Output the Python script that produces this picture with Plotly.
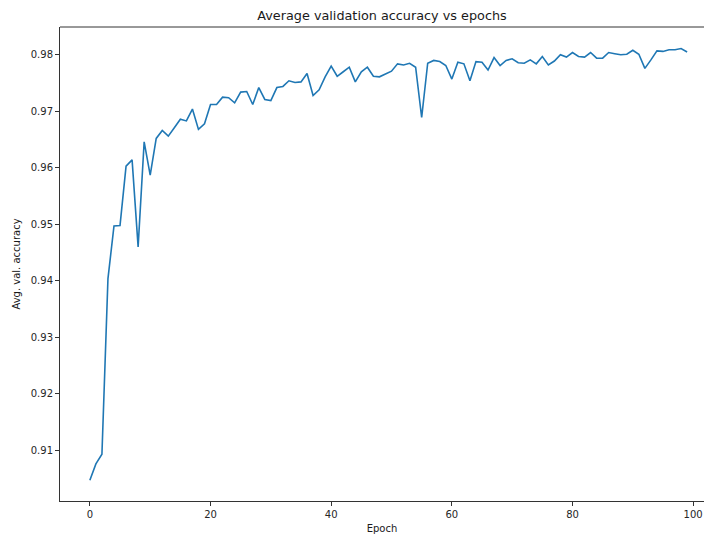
import plotly.graph_objects as go

epochs = list(range(100))
accuracy = [
    0.9047, 0.9076, 0.9093, 0.9404, 0.9497, 0.9498, 0.9603, 0.9614, 0.9460, 0.9646,
    0.9587, 0.9652, 0.9666, 0.9656, 0.9671, 0.9686, 0.9683, 0.9704, 0.9668, 0.9678,
    0.9712, 0.9712, 0.9725, 0.9724, 0.9715, 0.9734, 0.9735, 0.9712, 0.9742, 0.9721,
    0.9719, 0.9742, 0.9744, 0.9754, 0.9751, 0.9752, 0.9767, 0.9728, 0.9738, 0.9761,
    0.9780, 0.9762, 0.9770, 0.9778, 0.9752, 0.9770, 0.9778, 0.9762, 0.9761, 0.9766,
    0.9771, 0.9784, 0.9782, 0.9785, 0.9778, 0.9689, 0.9785, 0.9790, 0.9788, 0.9781,
    0.9757, 0.9787, 0.9784, 0.9754, 0.9788, 0.9787, 0.9773, 0.9795, 0.9781, 0.9790,
    0.9793, 0.9786, 0.9785, 0.9791, 0.9784, 0.9797, 0.9782, 0.9789, 0.9800, 0.9796,
    0.9804, 0.9797, 0.9796, 0.9804, 0.9794, 0.9794, 0.9804, 0.9802, 0.9800, 0.9801,
    0.9808, 0.9801, 0.9776, 0.9791, 0.9807, 0.9806, 0.9809, 0.9809, 0.9811, 0.9805,
]
x_ticks = [0, 20, 40, 60, 80, 100]
y_ticks = [0.91, 0.92, 0.93, 0.94, 0.95, 0.96, 0.97, 0.98]

fig = go.Figure()
fig.add_trace(go.Scatter(x=epochs, y=accuracy, mode="lines",
                         line=dict(color="#1f77b4", width=1.6), showlegend=False))

font = "DejaVu Sans"
fig.update_layout(
    width=704, height=534,
    margin=dict(l=60, r=0, t=27, b=33),
    paper_bgcolor="white", plot_bgcolor="white",
    title=dict(text="Average validation accuracy vs epochs", x=0.5, xanchor="center",
               xref="paper", y=1 - 16 / 534, yanchor="middle",
               font=dict(family=font, size=12.8, color="#1a1a1a")),
    font=dict(family=font, size=10, color="#262626"),
)
# top spine (no right spine, as in the reference crop)
fig.add_shape(type="line", xref="paper", yref="paper", x0=0, x1=1, y0=1, y1=1,
              line=dict(color="#333333", width=1))
fig.update_xaxes(
    range=[-4.95, 101.8], tickvals=x_ticks, ticktext=[str(v) for v in x_ticks],
    showgrid=False, zeroline=False, showline=True, linecolor="#333333", linewidth=1,
    mirror=False, ticks="outside", ticklen=4, tickcolor="#333333",
    title=dict(text="Epoch", standoff=7, font=dict(family=font, size=10, color="#1a1a1a")),
)
fig.update_yaxes(
    range=[0.90103, 0.98492], tickvals=y_ticks, ticktext=[f"{v:.2f}" for v in y_ticks],
    showgrid=False, zeroline=False, showline=True, linecolor="#333333", linewidth=1,
    ticks="outside", ticklen=4, tickcolor="#333333",
    title=dict(text="Avg. val. accuracy", standoff=8, font=dict(family=font, size=10, color="#1a1a1a")),
)
fig.write_html("out.html")
